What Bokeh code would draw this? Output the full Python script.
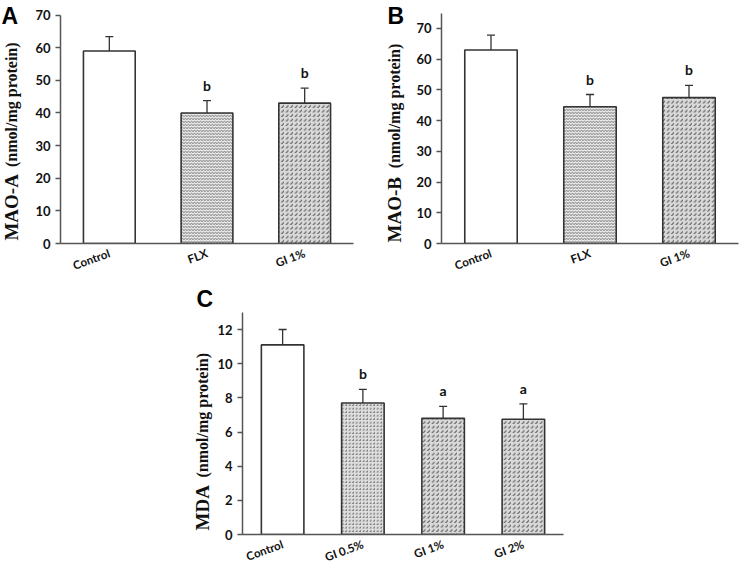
import math
from bokeh.plotting import figure
from bokeh.models import Whisker, ColumnDataSource, TeeHead, Spacer, Range1d
from bokeh.layouts import column, row
from bokeh.embed import file_html
from bokeh.resources import INLINE
from bokeh.core.properties import value

# ---------------- data ----------------
cats_ab = ["Control", "FLX", "GI 1%"]
mao_a = [59.0, 40.0, 43.0]
mao_a_err = [4.4, 3.8, 4.6]
mao_a_sig = ["", "b", "b"]

mao_b = [63.0, 44.5, 47.5]
mao_b_err = [4.8, 4.0, 4.0]
mao_b_sig = ["", "b", "b"]

cats_c = ["Control", "GI 0.5%", "GI 1%", "GI 2%"]
mda = [11.1, 7.7, 6.8, 6.75]
mda_err = [0.9, 0.8, 0.7, 0.9]
mda_sig = ["", "b", "a", "a"]

# ---------------- styles ----------------
STYLE = {
    "Control": dict(fill="#ffffff", pat=" ", scale=1, hcol="#ffffff"),
    "FLX": dict(fill="#ebebeb", pat="horizontal_wave", scale=3, hcol="#999999"),
    "GI 0.5%": dict(fill="#dedede", pat="right_diagonal_dash", scale=3.5, hcol="#666666"),
    "GI 1%": dict(fill="#d9d9d9", pat="right_diagonal_dash", scale=4.5, hcol="#555555"),
    "GI 2%": dict(fill="#d9d9d9", pat="right_diagonal_dash", scale=4.5, hcol="#555555"),
}

SERIF = "Liberation Serif"
SANS = "Lato"


def panel(cats, vals, errs, sig, ytop, yaxis_max, ystep, width, height, borders):
    bl, br, bt, bb = borders
    p = figure(x_range=cats, y_range=Range1d(0, ytop), width=width, height=height,
               output_backend="svg", toolbar_location=None,
               min_border_left=bl, min_border_right=br, min_border_top=bt,
               min_border_bottom=bb)
    upper = [v + e for v, e in zip(vals, errs)]
    lower = [v - e for v, e in zip(vals, errs)]
    src = ColumnDataSource(dict(
        x=cats, top=vals, upper=upper, lower=lower, sig=sig,
        fill=[STYLE[c]["fill"] for c in cats],
        pat=[STYLE[c]["pat"] for c in cats],
        scale=[STYLE[c]["scale"] for c in cats],
        hcol=[STYLE[c]["hcol"] for c in cats],
    ))
    p.vbar(x="x", top="top", width=0.53, source=src, fill_color="fill",
           line_color="#333333", line_width=1.6, hatch_pattern="pat",
           hatch_scale="scale", hatch_color="hcol", hatch_weight=1.1)
    w = Whisker(base="x", upper="upper", lower="lower", source=src,
                line_color="#333333", line_width=1.3,
                upper_head=TeeHead(size=8, line_color="#333333", line_width=1.3),
                lower_head=TeeHead(size=8, line_color="#333333", line_width=1.3))
    p.add_layout(w)
    p.text(x="x", y="upper", text="sig", source=src, text_align="center",
           text_baseline="bottom", y_offset=-7, text_font=value(SANS),
           text_font_style="bold", text_font_size="14px", text_color="#111111")

    p.xgrid.grid_line_color = None
    p.ygrid.grid_line_color = None
    p.outline_line_color = None
    for ax in (p.xaxis, p.yaxis):
        ax.axis_line_color = "#555555"
        ax.axis_line_width = 1.5
        ax.major_label_text_font = SANS
        ax.major_label_text_font_style = "bold"
        ax.major_label_text_color = "#111111"
    p.xaxis.major_tick_line_color = None
    p.xaxis.minor_tick_line_color = None
    p.xaxis.major_label_orientation = 0.35
    p.xaxis.major_label_standoff = 3
    p.xaxis.major_label_text_font_size = "11.5px"
    p.yaxis.bounds = (0, yaxis_max)
    p.yaxis.ticker = list(range(0, int(yaxis_max) + 1, ystep))
    p.yaxis.minor_tick_line_color = None
    p.yaxis.major_tick_line_color = "#555555"
    p.yaxis.major_tick_line_width = 1.3
    p.yaxis.major_tick_out = 5
    p.yaxis.major_tick_in = 0
    p.yaxis.major_label_standoff = 5
    p.yaxis.major_label_text_font_size = "13px"
    return p


def strip(width, height, bb, letter, lx, ly, big, small, tx, ty_big, ty_small):
    """Narrow text-only figure (same bottom border as its panel) holding the
    panel letter and the y-axis title; y data = pixels above the canvas bottom."""
    s = figure(width=width, height=height, x_range=Range1d(0, width),
               y_range=Range1d(bb, height), x_axis_location=None, y_axis_location=None,
               min_border_left=0, min_border_right=0, min_border_top=0,
               min_border_bottom=bb, output_backend="svg", toolbar_location=None)
    s.xgrid.grid_line_color = None
    s.ygrid.grid_line_color = None
    s.outline_line_color = None
    s.text(x=[lx], y=[height - ly], text=[letter], text_align="left", text_baseline="top",
           text_font=value("Liberation Sans"), text_font_style="bold",
           text_font_size="23px", text_color="#000000")
    s.text(x=[tx], y=[height - ty_big], text=[big], angle=math.pi / 2, text_align="left",
           text_baseline="middle", text_font=value(SERIF), text_font_style="bold",
           text_font_size="19px", text_color="#111111")
    s.text(x=[tx], y=[height - ty_small], text=[small], angle=math.pi / 2,
           text_align="left", text_baseline="middle", text_font=value(SERIF),
           text_font_style="bold", text_font_size="16px", text_color="#111111")
    return s


# page has no margin: panel A x 0..375, panel B 375..750; row 1 is 280 px tall
sA = strip(32, 280, 29, "A", 1, 3, "MAO-A", "(nmol/mg protein)", 11, 248, 172)
pA = panel(cats_ab, mao_a, mao_a_err, mao_a_sig, 74.46, 70, 10, 343, 280, (27, 22, 0, 29))
sB = strip(38, 280, 31, "B", 12, 3, "MAO-B", "(nmol/mg protein)", 19, 248, 172)
pB = panel(cats_ab, mao_b, mao_b_err, mao_b_sig, 79.1, 75, 10, 337, 280, (25, 12, 0, 31))
pB.yaxis.ticker = list(range(0, 71, 10))
sC = strip(24, 292, 38, "C", 6, 5, "MDA", "(nmol/mg protein)", 12, 250, 197)
pC = panel(cats_c, mda, mda_err, mda_sig, 14.87, 13, 2, 386, 292, (22, 37, 0, 38))

layout = column(row(sA, pA, sB, pB), row(Spacer(width=190, height=292), sC, pC))

open("out.html", "w").write(file_html(layout, INLINE))
